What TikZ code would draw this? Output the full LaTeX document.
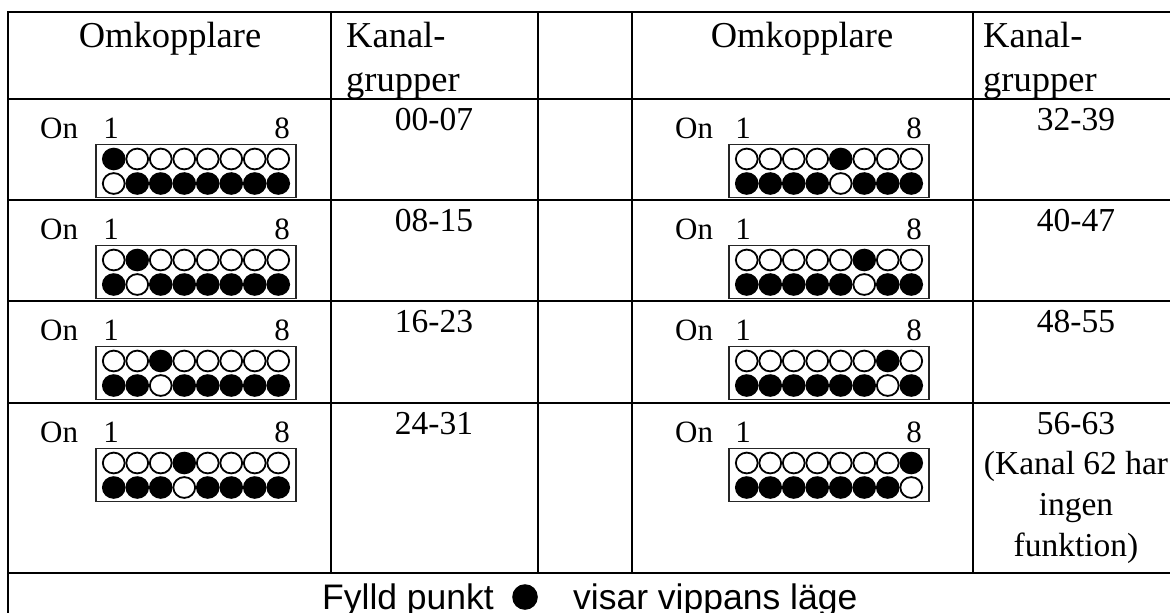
\documentclass[tikz,border=0pt]{standalone}
\usepackage{fontspec}
\setmainfont{Liberation Serif}
\newfontfamily\sansf{Liberation Sans}
\newcommand\dipbox[3]{%
  \draw[boxline] (#1,{#2+45.5}) rectangle ({#1+200},{#2+98.5});
  \foreach \i in {1,...,8}{%
    \pgfmathsetmacro\cx{#1+17.75+23.5*(\i-1)}%
    \ifnum\i=#3\relax
      \fill (\cx,{#2+60}) ellipse[x radius=11.8,y radius=11.3];
      \draw[dotline] (\cx,{#2+84.5}) ellipse[x radius=10.9,y radius=10.4];
    \else
      \draw[dotline] (\cx,{#2+60}) ellipse[x radius=10.9,y radius=10.4];
      \fill (\cx,{#2+84.5}) ellipse[x radius=11.8,y radius=11.3];
    \fi
  }%
}
\begin{document}
\begin{tikzpicture}[x=1pt,y=-1pt,
  grid/.style={line width=2.6pt,line cap=rect},
  boxline/.style={line width=1.6pt,draw=black!85},
  dotline/.style={line width=1.8pt},
  hd/.style={inner sep=0pt,font=\fontsize{36.5}{42}\selectfont},
  val/.style={inner sep=0pt,font=\fontsize{33.5}{40}\selectfont,anchor=base},
  sw/.style={inner sep=0pt,font=\fontsize{31}{36}\selectfont},
  ft/.style={inner sep=0pt,font=\sansf\fontsize{35.5}{42}\selectfont,anchor=base west}]
\useasboundingbox (0,0) rectangle (1170,613);
\fill[white] (0,0) rectangle (1170,613);
% grid
\draw[grid] (8,12) rectangle (1178,640);
\foreach \y in {99,200,301,403,573} \draw[grid] (8,\y) -- (1178,\y);
\foreach \x in {331,538,632,973} \draw[grid] (\x,12) -- (\x,573);
% headers
\node[hd,anchor=base] (h1) at (170,47) {Omkopplare};
\node[hd,anchor=base west] (k1a) at (346,47) {Kanal-};
\node[hd,anchor=base west] (k1b) at (346,91) {grupper};
\node[hd,anchor=base] (h2) at (802,47) {Omkopplare};
\node[hd,anchor=base west] (k2a) at (983,47) {Kanal-};
\node[hd,anchor=base west] (k2b) at (983,91) {grupper};
% rows
\foreach \T/\p/\v [count=\n] in {99/1/00-07,200/2/08-15,301/3/16-23,403/4/24-31}{
  \node[sw,anchor=base west] (onL\n) at (40,{\T+39}) {On};
  \node[sw,anchor=base] (aL\n) at (111,{\T+39}) {1};
  \node[sw,anchor=base] (bL\n) at (282,{\T+39}) {8};
  \dipbox{96}{\T}{\p}
  \node[val] (vL\n) at (434,{\T+31}) {\v};
}
\foreach \T/\p/\v [count=\n] in {99/5/32-39,200/6/40-47,301/7/48-55,403/8/56-63}{
  \node[sw,anchor=base west] (onR\n) at (675,{\T+39}) {On};
  \node[sw,anchor=base] (aR\n) at (743,{\T+39}) {1};
  \node[sw,anchor=base] (bR\n) at (914,{\T+39}) {8};
  \dipbox{729}{\T}{\p}
  \node[val] (vR\n) at (1076,{\T+31}) {\v};
}
\node[val] (n1) at (1076,474) {(Kanal 62 har};
\node[val] (n2) at (1076,515) {ingen};
\node[val] (n3) at (1076,556) {funktion)};
% footer
\node[ft] (f1) at (322,609) {Fylld punkt};
\fill (525,597) circle[radius=12.8];
\node[ft] (f2) at (573,609) {visar vippans läge};
\end{tikzpicture}
\end{document}
